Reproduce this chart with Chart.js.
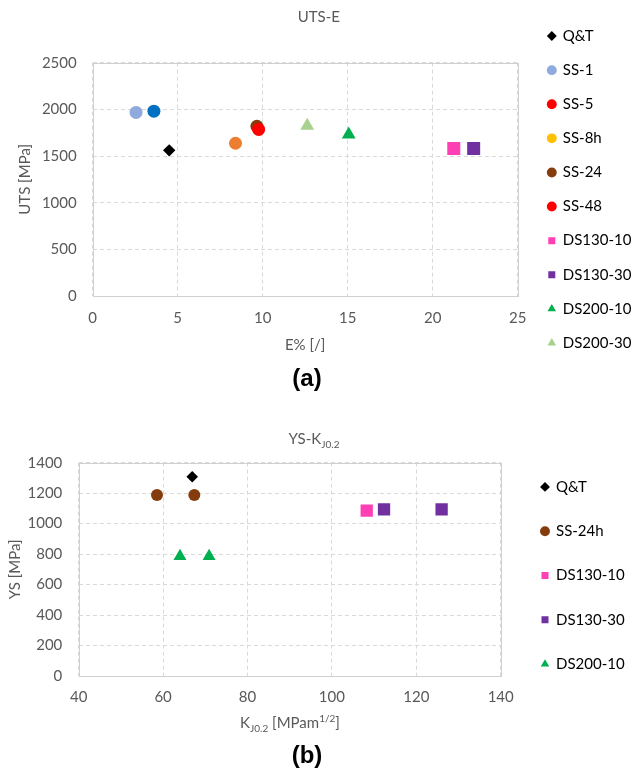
<!DOCTYPE html>
<html>
<head>
<meta charset="utf-8">
<title>UTS-E / YS-KJ0.2</title>
<script src="https://cdn.jsdelivr.net/npm/chart.js@4.4.1/dist/chart.umd.min.js"></script>
<style>
  html, body { margin: 0; padding: 0; background: #fff; }
  body { width: 641px; height: 769px; position: relative; overflow: hidden; font-family: Lato, sans-serif; }
  .box { position: absolute; left: 0; width: 641px; }
  #boxA { top: 0; height: 379px; }
  #boxB { top: 400px; height: 351px; }
  .label { position: absolute; transform: translate(-50%, -50%); white-space: nowrap; color: #595959; font-size: 15px; line-height: 18px; }
  .label sub, .label sup { font-size: 10px; line-height: 0; }
  .tag { font-family: 'Liberation Sans', Arial, sans-serif; font-weight: bold; font-size: 24px; color: #000; }
</style>
</head>
<body>
<div class="box" id="boxA"><canvas id="utsChart"></canvas></div>
<div class="box" id="boxB"><canvas id="ysChart"></canvas></div>
<div class="label tag" style="left:307px; top:378px;">(a)</div>
<div class="label" style="left:314px; top:438px;">YS-K<sub>J0.2</sub></div>
<div class="label" style="left:290px; top:722px;">K<sub>J0.2</sub> [MPam<sup>1/2</sup>]</div>
<div class="label tag" style="left:307px; top:755px;">(b)</div>

<script>
// (a) UTS against elongation
var utsNames = ['Q&T', 'SS-1', 'SS-5', 'SS-8h', 'SS-24', 'SS-48', 'DS130-10', 'DS130-30', 'DS200-10', 'DS200-30'];
var utsElong = [[4.5], [2.55], [3.6], [8.4], [9.66], [9.76], [21.24], [22.41], [15.06], [12.62]];
var utsValue = [[1561], [1967], [1981], [1637], [1819], [1785], [1580], [1580], [1730], [1825]];
var elongTicks = [0, 5, 10, 15, 20, 25];
var utsTicks = [0, 500, 1000, 1500, 2000, 2500];

// (b) YS against KJ0.2
var ysNames = ['Q&T', 'SS-24h', 'DS130-10', 'DS130-30', 'DS200-10'];
var ysKj = [[66.9], [58.55, 67.4], [108.25], [112.35, 126.0], [64.0, 70.9]];
var ysValue = [[1308], [1188, 1188], [1085], [1094, 1094], [786, 786]];
var kjTicks = [40, 60, 80, 100, 120, 140];
var ysTicks = [0, 200, 400, 600, 800, 1000, 1200, 1400];

// marker styles
var utsShape = ['rectRot', 'circle', 'circle', 'circle', 'circle', 'circle', 'rect', 'rect', 'triangle', 'triangle'];
var utsColor = ['#000000', '#8faadc', '#0070c0', '#ed7d31', '#843c0c', '#ff0000', '#ff3fb4', '#7030a0', '#00b050', '#a9d18e'];
var utsKey = ['#000000', '#8faadc', '#ff0000', '#ffc000', '#843c0c', '#ff0000', '#ff3fb4', '#7030a0', '#00b050', '#a9d18e'];
var ysShape = ['rectRot', 'circle', 'rect', 'rect', 'triangle'];
var ysColor = ['#000000', '#843c0c', '#ff3fb4', '#7030a0', '#00b050'];
var sizeA = { rectRot: 6.2, circle: 6.5, rect: 9.2, triangle: 8 };
var sizeB = { rectRot: 5.8, circle: 6, rect: 8.7, triangle: 7.5 };

Chart.defaults.font.family = "Lato, 'Open Sans', sans-serif";
Chart.defaults.font.size = 15;
Chart.defaults.color = '#595959';

function buildSets(names, xs, ys, shapes, colors, keys, sizes) {
    return names.map(function(name, i) {
        return {
            label: name,
            data: xs[i].map(function(x, j) { return { x: x, y: ys[i][j] }; }),
            pointStyle: shapes[i],
            pointRadius: sizes[shapes[i]],
            pointHoverRadius: sizes[shapes[i]],
            pointBackgroundColor: colors[i],
            pointBorderColor: colors[i],
            pointBorderWidth: 0,
            backgroundColor: colors[i],
            borderColor: colors[i],
            keyColor: keys[i],
            showLine: false
        };
    });
}

// legend follows dataset order, with its own swatch colour
function legendItems(chart) {
    return chart.data.datasets.map(function(ds, i) {
        return {
            text: ds.label,
            fillStyle: ds.keyColor,
            strokeStyle: ds.keyColor,
            lineWidth: 0,
            pointStyle: ds.pointStyle,
            rotation: 0,
            hidden: false,
            datasetIndex: i
        };
    });
}

// plain numbers, no thousands separator
function plainTick(value) {
    return String(value);
}

// thin frame round the plot area
var plotFrame = {
    id: 'plotFrame',
    beforeDatasetsDraw: function(chart) {
        var a = chart.chartArea, ctx = chart.ctx;
        ctx.save();
        ctx.strokeStyle = '#d0d0d0';
        ctx.lineWidth = 1;
        ctx.strokeRect(Math.round(a.left) + 0.5, Math.round(a.top) + 0.5, Math.round(a.width), Math.round(a.height));
        ctx.restore();
    }
};

// push the legend a little away from the plot
var legendNudge = {
    id: 'legendNudge',
    afterLayout: function(chart, args, opts) {
        var lg = chart.legend;
        if (!lg || !opts.x) return;
        lg.left += opts.x;
        lg.right += opts.x;
    }
};

var gridStyle = { color: '#d9d9d9', drawTicks: false };
var borderStyle = { display: false, dash: [4, 3] };

var utsSets = buildSets(utsNames, utsElong, utsValue, utsShape, utsColor, utsKey, sizeA);
utsSets[5].order = -1; // SS-48 sits over SS-24

new Chart(document.getElementById('utsChart').getContext('2d'), {
    type: 'scatter',
    data: { datasets: utsSets },
    plugins: [plotFrame, legendNudge],
    options: {
        responsive: true,
        maintainAspectRatio: false,
        animation: false,
        layout: { padding: { left: 10, right: 13.3, top: 0, bottom: 0 } },
        plugins: {
            title: {
                display: true,
                text: 'UTS-E',
                font: { size: 15, weight: 'normal' },
                color: '#595959',
                padding: { top: 8, bottom: 36.7 }
            },
            legend: {
                position: 'right',
                maxWidth: 110,
                labels: {
                    usePointStyle: true,
                    boxWidth: 7,
                    boxHeight: 7,
                    padding: 19.1,
                    color: '#595959',
                    generateLabels: legendItems
                }
            },
            legendNudge: { x: 11.5 },
            tooltip: { enabled: false }
        },
        scales: {
            x: {
                type: 'linear',
                min: elongTicks[0],
                max: elongTicks[elongTicks.length - 1],
                ticks: { stepSize: elongTicks[1] - elongTicks[0], padding: 13.3, callback: plainTick },
                grid: gridStyle,
                border: borderStyle,
                title: { display: true, text: 'E% [/]', padding: { top: 0, bottom: 25 } },
                afterFit: function(s) { s.height = 83; }
            },
            y: {
                min: utsTicks[0],
                max: utsTicks[utsTicks.length - 1],
                ticks: { stepSize: utsTicks[1] - utsTicks[0], padding: 16, callback: plainTick },
                grid: gridStyle,
                border: borderStyle,
                title: { display: true, text: 'UTS [MPa]', padding: { top: 6, bottom: 0 } },
                afterFit: function(s) { s.width = 82.7; }
            }
        }
    }
});

new Chart(document.getElementById('ysChart').getContext('2d'), {
    type: 'scatter',
    data: { datasets: buildSets(ysNames, ysKj, ysValue, ysShape, ysColor, ysColor, sizeB) },
    plugins: [plotFrame, legendNudge],
    options: {
        responsive: true,
        maintainAspectRatio: false,
        animation: false,
        layout: { padding: { left: 0, right: 22.3, top: 0, bottom: 0 } },
        plugins: {
            // heading band; the subscripted heading text sits in the page above it
            title: {
                display: true,
                text: '',
                font: { size: 15, weight: 'normal' },
                padding: { top: 0, bottom: 44.7 }
            },
            legend: {
                position: 'right',
                maxWidth: 118,
                labels: {
                    usePointStyle: true,
                    boxWidth: 7,
                    boxHeight: 7,
                    padding: 29.3,
                    color: '#595959',
                    generateLabels: legendItems
                }
            },
            legendNudge: { x: 11.5 },
            tooltip: { enabled: false }
        },
        scales: {
            x: {
                type: 'linear',
                min: kjTicks[0],
                max: kjTicks[kjTicks.length - 1],
                ticks: { stepSize: kjTicks[1] - kjTicks[0], padding: 11.7, callback: plainTick },
                grid: gridStyle,
                border: borderStyle,
                afterFit: function(s) { s.height = 75; }
            },
            y: {
                min: ysTicks[0],
                max: ysTicks[ysTicks.length - 1],
                ticks: { stepSize: ysTicks[1] - ysTicks[0], padding: 16.4, callback: plainTick },
                grid: gridStyle,
                border: borderStyle,
                title: { display: true, text: 'YS [MPa]', padding: { top: 6, bottom: 0 } },
                afterFit: function(s) { s.width = 78.7; }
            }
        }
    }
});
</script>
</body>
</html>
